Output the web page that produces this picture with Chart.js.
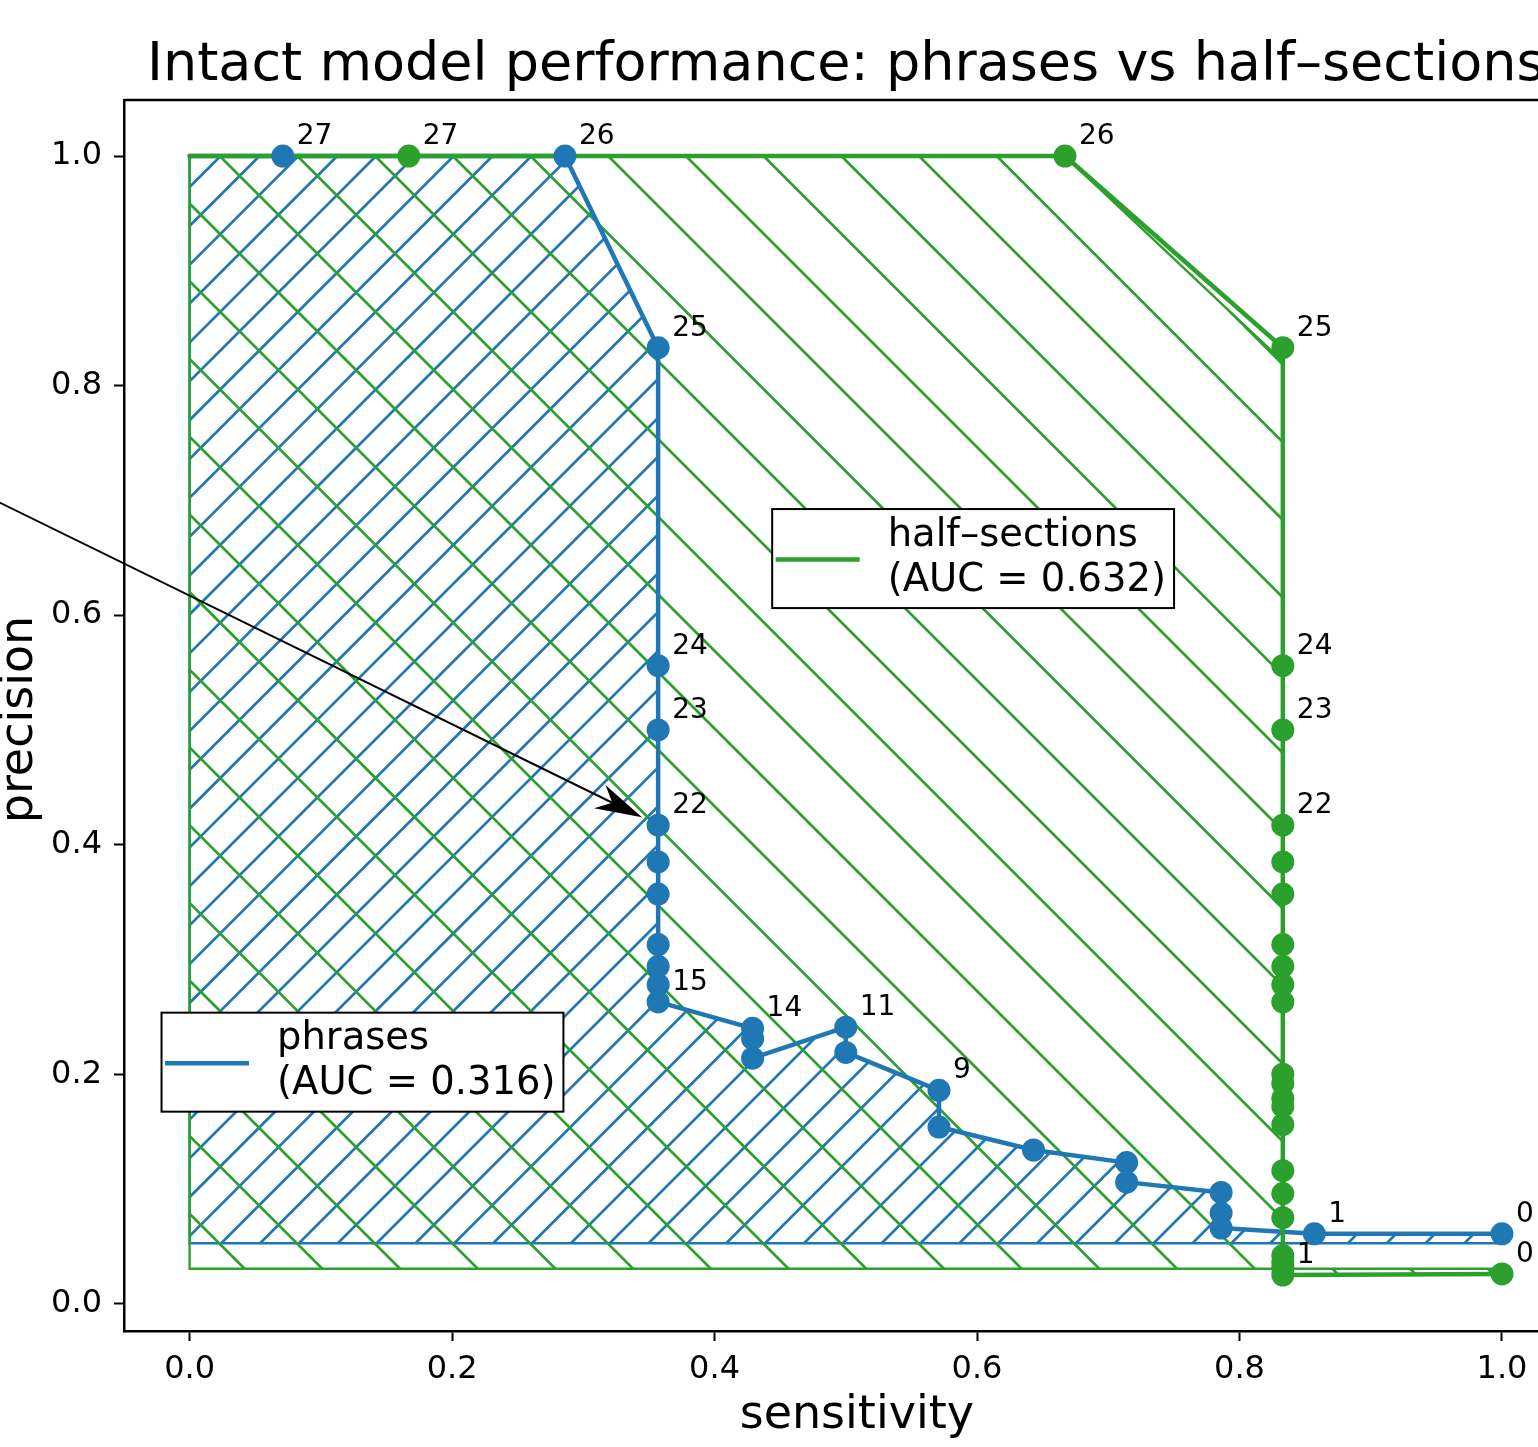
<!DOCTYPE html>
<html>
<head>
<meta charset="utf-8">
<title>Intact model performance</title>
<script src="https://cdn.jsdelivr.net/npm/chart.js@4.4.1/dist/chart.umd.min.js"></script>
<style>
  html, body { margin: 0; padding: 0; background: #fff; overflow: hidden; }
  #wrap { width: 1600px; height: 1447px; }
</style>
</head>
<body>
<div id="wrap"><canvas id="pr" width="1600" height="1447"></canvas></div>
<script>
const BLUE = "#1f77b4";
const GREEN = "#2ca02c";
const FONT = "'DejaVu Sans', sans-serif";

// both curves start from the (sensitivity 0, precision 1) end point
const CURVE_START = { x: 0, y: 1.0 };

// phrases: one point per score threshold (27 .. 0)
const PHRASE_SENS = [0.071, 0.286, 0.357, 0.357, 0.357, 0.357, 0.357, 0.357, 0.357, 0.357, 0.357, 0.357,
                     0.429, 0.429, 0.429, 0.5, 0.5, 0.571, 0.571, 0.643, 0.714, 0.714, 0.786, 0.786, 0.786, 0.857, 1.0];
const PHRASE_PREC = [1.0, 1.0, 0.833, 0.556, 0.5, 0.417, 0.385, 0.357, 0.313, 0.294, 0.278, 0.263,
                     0.24, 0.231, 0.214, 0.241, 0.219, 0.186, 0.154, 0.134, 0.123, 0.106, 0.097, 0.079, 0.066, 0.061, 0.061];
const PHRASE_TAGS = ["27", "26", "25", "24", "23", "22", "", "", "", "", "", "15",
                     "14", "", "", "11", "", "9", "", "", "", "", "", "", "", "1", "0"];
const PHRASE_AUC = 0.316;
const PHRASE_BASE = 0.0527;

// half-sections
const HALF_SENS = [0.167, 0.667, 0.833, 0.833, 0.833, 0.833, 0.833, 0.833, 0.833, 0.833, 0.833, 0.833,
                   0.833, 0.833, 0.833, 0.833, 0.833, 0.833, 0.833, 0.833, 0.833, 0.833, 0.833, 0.833, 1.0];
const HALF_PREC = [1.0, 1.0, 0.833, 0.556, 0.5, 0.417, 0.385, 0.357, 0.313, 0.294, 0.278, 0.263,
                   0.2, 0.192, 0.179, 0.172, 0.156, 0.116, 0.096, 0.075, 0.042, 0.036, 0.031, 0.025, 0.026];
const HALF_TAGS = ["27", "26", "25", "24", "23", "22", "", "", "", "", "", "",
                   "", "", "", "", "", "", "", "", "", "", "", "1", "0"];
const HALF_AUC = 0.632;
const HALF_BASE = 0.0305;

// outline of the shaded areas under each curve
const PHRASE_AREA_SENS = [CURVE_START.x].concat(PHRASE_SENS);
const PHRASE_AREA_PREC = [CURVE_START.y].concat(PHRASE_PREC);
const HALF_AREA_SENS = [0, 0.667, 0.833, 0.833, 1.0];
const HALF_AREA_PREC = [1.0, 1.0, 0.821, 0.025, 0.026];

const X_TICKS = [0, 0.2, 0.4, 0.6, 0.8, 1.0];
const Y_TICKS = [0, 0.2, 0.4, 0.6, 0.8, 1.0];

// annotation arrow: text sits off to the left, head points at phrases threshold 22
const ARROW_TAIL = [-0.2, 0.729];
const ARROW_TARGET = 5;

function toPoints(xs, ys) {
    return xs.map((x, i) => ({ x: x, y: ys[i] }));
}

function hatchArea(chart, xs, ys, base, color, dir, gap, phase) {
    const { ctx, scales: { x, y } } = chart;
    const yb = y.getPixelForValue(base);
    const path = new Path2D();
    path.moveTo(x.getPixelForValue(xs[0]), yb);
    xs.forEach((v, i) => path.lineTo(x.getPixelForValue(v), y.getPixelForValue(ys[i])));
    path.lineTo(x.getPixelForValue(xs[xs.length - 1]), yb);
    path.closePath();

    const w = chart.width, h = chart.height;
    ctx.save();
    ctx.clip(path);
    ctx.strokeStyle = color;
    ctx.lineWidth = 2.7;
    ctx.beginPath();
    if (dir === "/") {
        for (let c = phase % gap; c < w + h; c += gap) {
            ctx.moveTo(c, 0);
            ctx.lineTo(c - h, h);
        }
    } else {
        let c = phase - Math.ceil((phase + w) / gap) * gap;
        for (; c < h; c += gap) {
            ctx.moveTo(0, c);
            ctx.lineTo(w, w + c);
        }
    }
    ctx.stroke();
    ctx.restore();

    ctx.save();
    ctx.strokeStyle = color;
    ctx.lineWidth = 2.4;
    ctx.stroke(path);
    ctx.restore();
}

// shaded areas go underneath every line and marker
const areaPlugin = {
    id: "areaHatch",
    beforeDatasetsDraw(chart) {
        hatchArea(chart, PHRASE_AREA_SENS, PHRASE_AREA_PREC, PHRASE_BASE, BLUE, "/", 38.85, 27);
        hatchArea(chart, HALF_AREA_SENS, HALF_AREA_PREC, HALF_BASE, GREEN, "\\", 77.7, 14);
    }
};

const tagPlugin = {
    id: "thresholdTags",
    afterDatasetsDraw(chart) {
        const { ctx, scales: { x, y } } = chart;
        ctx.save();
        ctx.fillStyle = "#000";
        ctx.font = "28px " + FONT;
        ctx.textAlign = "left";
        ctx.textBaseline = "alphabetic";
        [[PHRASE_SENS, PHRASE_PREC, PHRASE_TAGS], [HALF_SENS, HALF_PREC, HALF_TAGS]].forEach(([xs, ys, tags]) => {
            tags.forEach((t, i) => {
                if (!t) return;
                ctx.fillText(t, x.getPixelForValue(xs[i]) + 14, y.getPixelForValue(ys[i]) - 12);
            });
        });

        // arrow
        const tx = x.getPixelForValue(ARROW_TAIL[0]), ty = y.getPixelForValue(ARROW_TAIL[1]);
        const px = x.getPixelForValue(PHRASE_SENS[ARROW_TARGET]), py = y.getPixelForValue(PHRASE_PREC[ARROW_TARGET]);
        const len = Math.hypot(px - tx, py - ty);
        const ux = (px - tx) / len, uy = (py - ty) / len;
        const hx = px - ux * 18, hy = py - uy * 18;
        const notch = 33, back = 47, half = 13;
        ctx.strokeStyle = "#000";
        ctx.lineWidth = 2;
        ctx.beginPath();
        ctx.moveTo(tx, ty);
        ctx.lineTo(hx - ux * notch, hy - uy * notch);
        ctx.stroke();
        ctx.fillStyle = "#000";
        ctx.beginPath();
        ctx.moveTo(hx, hy);
        ctx.lineTo(hx - ux * back - uy * half, hy - uy * back + ux * half);
        ctx.lineTo(hx - ux * notch, hy - uy * notch);
        ctx.lineTo(hx - ux * back + uy * half, hy - uy * back - ux * half);
        ctx.closePath();
        ctx.fill();
        ctx.restore();
    }
};

function drawLegend(ctx, left, top, color, lines) {
    ctx.font = "38.5px " + FONT;
    const textX = left + 115.5;
    const textW = Math.max(...lines.map(s => ctx.measureText(s).width));
    const boxW = textX + textW + 8 - left;
    const boxH = 99;
    ctx.fillStyle = "#fff";
    ctx.fillRect(left, top, boxW, boxH);
    ctx.strokeStyle = "#000";
    ctx.lineWidth = 2;
    ctx.strokeRect(left, top, boxW, boxH);
    ctx.strokeStyle = color;
    ctx.lineWidth = 4.5;
    ctx.beginPath();
    ctx.moveTo(left + 3.5, top + 50.5);
    ctx.lineTo(left + 87.5, top + 50.5);
    ctx.stroke();
    ctx.fillStyle = "#000";
    ctx.textAlign = "left";
    ctx.textBaseline = "alphabetic";
    ctx.fillText(lines[0], textX, top + 36.5);
    ctx.fillText(lines[1], textX, top + 81.5);
}

const framePlugin = {
    id: "frame",
    afterDraw(chart) {
        const { ctx, chartArea: a } = chart;
        ctx.save();
        ctx.strokeStyle = "#000";
        ctx.lineWidth = 2.5;
        ctx.beginPath();
        ctx.moveTo(a.left, a.top);
        ctx.lineTo(a.right, a.top);
        ctx.lineTo(a.right, a.bottom);
        ctx.stroke();

        const aw = a.right - a.left, ah = a.bottom - a.top;
        drawLegend(ctx, a.left + 0.026 * aw, a.top + 0.7414 * ah, BLUE,
                   ["phrases", "(AUC = " + PHRASE_AUC.toFixed(3) + ")"]);
        drawLegend(ctx, a.left + 0.449 * aw, a.top + 0.3323 * ah, GREEN,
                   ["half\u2013sections", "(AUC = " + HALF_AUC.toFixed(3) + ")"]);

        ctx.fillStyle = "#000";
        ctx.textAlign = "center";
        ctx.textBaseline = "alphabetic";
        ctx.font = "54px " + FONT;
        ctx.fillText("Intact model performance: phrases vs half\u2013sections", (a.left + a.right) / 2, 80);
        ctx.font = "46px " + FONT;
        ctx.fillText("sensitivity", (a.left + a.right) / 2 + 11, 1428);
        ctx.translate(32, (a.top + a.bottom) / 2 + 4);
        ctx.rotate(-Math.PI / 2);
        ctx.fillText("precision", 0, 0);
        ctx.restore();
    }
};

const tickFont = { family: FONT, size: 32 };

function curveLine(color, xs, ys, order) {
    return {
        data: [CURVE_START].concat(toPoints(xs, ys)),
        showLine: true,
        borderColor: color,
        borderWidth: 4.5,
        borderJoinStyle: "round",
        borderCapStyle: "round",
        pointRadius: 0,
        pointHoverRadius: 0,
        tension: 0,
        order: order
    };
}

function curveMarkers(color, xs, ys, order) {
    return {
        data: toPoints(xs, ys),
        showLine: false,
        backgroundColor: color,
        borderColor: color,
        pointRadius: 11.5,
        pointHoverRadius: 11.5,
        pointBorderWidth: 0,
        order: order
    };
}

new Chart(document.getElementById("pr").getContext("2d"), {
    type: "scatter",
    data: {
        datasets: [
            Object.assign(curveLine(BLUE, PHRASE_SENS, PHRASE_PREC, 4), { label: "phrases" }),
            Object.assign(curveLine(GREEN, HALF_SENS, HALF_PREC, 3), { label: "half-sections" }),
            curveMarkers(BLUE, PHRASE_SENS, PHRASE_PREC, 2),
            curveMarkers(GREEN, HALF_SENS, HALF_PREC, 1)
        ]
    },
    options: {
        responsive: false,
        animation: false,
        devicePixelRatio: 1,
        layout: { padding: { left: 0, right: 32.4, top: 100, bottom: 0 } },
        plugins: { legend: { display: false }, tooltip: { enabled: false } },
        scales: {
            x: {
                type: "linear",
                min: -0.05,
                max: 1.05,
                afterBuildTicks: s => { s.ticks = X_TICKS.map(v => ({ value: v })); },
                afterFit: s => { s.height = 116; },
                grid: { drawOnChartArea: false, drawTicks: true, tickLength: 10, tickWidth: 2, tickColor: "#000" },
                border: { display: true, color: "#000", width: 2.5 },
                ticks: { color: "#000", font: tickFont, padding: 9, maxRotation: 0, autoSkip: false,
                         callback: v => v.toFixed(1) }
            },
            y: {
                type: "linear",
                min: -0.0237,
                max: 1.0488,
                afterBuildTicks: s => { s.ticks = Y_TICKS.map(v => ({ value: v })); },
                afterFit: s => { s.width = 124; },
                grid: { drawOnChartArea: false, drawTicks: true, tickLength: 10, tickWidth: 2, tickColor: "#000" },
                border: { display: true, color: "#000", width: 2.5 },
                ticks: { color: "#000", font: tickFont, padding: 12, autoSkip: false,
                         callback: v => v.toFixed(1) }
            }
        }
    },
    plugins: [areaPlugin, tagPlugin, framePlugin]
});
</script>
</body>
</html>
